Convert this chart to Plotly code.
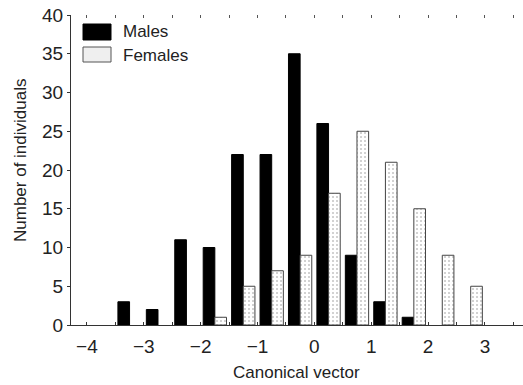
import plotly.graph_objects as go

# Bin centres (canonical vector) and counts
bin_centres = [-3.25, -2.75, -2.25, -1.75, -1.25, -0.75, -0.25, 0.25, 0.75, 1.25, 1.75, 2.25, 2.75]
males = [3, 2, 11, 10, 22, 22, 35, 26, 9, 3, 1, 0, 0]
females = [0, 0, 0, 1, 5, 7, 9, 17, 25, 21, 15, 9, 5]
x_ticks = [-4, -3, -2, -1, 0, 1, 2, 3]
y_ticks = [0, 5, 10, 15, 20, 25, 30, 35, 40]

FONT = "Liberation Sans, Arial, Helvetica, sans-serif"
TXT = "#222222"
XR = [-4.28, 3.67]

fig = go.Figure()
fig.add_trace(go.Bar(
    x=bin_centres, y=males, name="Males",
    marker=dict(color="black",
                line=dict(color="black", width=[1 if v > 0 else 0 for v in males])),
    showlegend=False,
))
fig.add_trace(go.Bar(
    x=bin_centres, y=females, name="Females",
    marker=dict(color="white",
                line=dict(color="#444444", width=[1 if v > 0 else 0 for v in females]),
                pattern=dict(shape=".", fgcolor="#888888", bgcolor="white",
                             size=4, solidity=0.2)),
    showlegend=False,
))
# invisible trace to host top tick axis
fig.add_trace(go.Scatter(x=[0], y=[0], xaxis="x2", mode="markers",
                         marker=dict(opacity=0), showlegend=False, hoverinfo="skip"))

fig.update_layout(
    width=523, height=385,
    margin=dict(l=71, r=0, t=15, b=60),
    paper_bgcolor="white", plot_bgcolor="white",
    font=dict(family=FONT, size=18, color=TXT),
    barmode="group", bargap=0.18, bargroupgap=0,
    xaxis=dict(
        range=XR, tickmode="array", tickvals=x_ticks,
        ticktext=["\u2212" + str(-v) if v < 0 else str(v) for v in x_ticks],
        ticks="inside", ticklen=3, tickcolor="#333", tickwidth=1,
        minor=dict(tickmode="linear", tick0=0, dtick=0.5, ticks="inside",
                   ticklen=3, tickcolor="#333", tickwidth=1),
        showline=True, linecolor="#333", linewidth=1,
        showgrid=False, zeroline=False,
        ticklabelstandoff=4,
        tickfont=dict(size=19),
    ),
    xaxis2=dict(
        range=XR, overlaying="x", side="top", anchor="y",
        tickmode="linear", tick0=0, dtick=0.5,
        ticks="inside", ticklen=3, tickcolor="#555", tickwidth=1,
        showticklabels=False, showline=False, showgrid=False, zeroline=False,
    ),
    yaxis=dict(
        range=[0, 40], tickmode="array", tickvals=y_ticks,
        ticks="outside", ticklen=3, tickcolor="#333", tickwidth=1,
        showline=True, linecolor="#333", linewidth=1,
        showgrid=False, zeroline=False,
        tickfont=dict(size=19),
    ),
)

# paper coords: x 0->71px, 1->523px; y 0->325px, 1->15px
def px(xp):
    return (xp - 71) / 452.0

def py(yp):
    return (325 - yp) / 310.0

# axis titles
fig.add_annotation(text="Canonical vector", xref="paper", yref="paper",
                   x=px(296), y=py(372), xanchor="center", yanchor="middle",
                   showarrow=False, font=dict(size=17, family=FONT, color=TXT))
fig.add_annotation(text="Number of individuals", xref="paper", yref="paper",
                   x=px(20), y=py(161), xanchor="center", yanchor="middle",
                   textangle=-90, showarrow=False,
                   font=dict(size=17, family=FONT, color=TXT))

# manual legend
fig.add_shape(type="rect", xref="paper", yref="paper",
              x0=px(83), x1=px(111), y0=py(40), y1=py(24),
              fillcolor="black", line=dict(color="black", width=1))
fig.add_shape(type="rect", xref="paper", yref="paper",
              x0=px(83), x1=px(111), y0=py(62), y1=py(47),
              fillcolor="#efefef", line=dict(color="#555555", width=1))
fig.add_annotation(text="Males", xref="paper", yref="paper", x=px(121), y=py(32),
                   xanchor="left", yanchor="middle", showarrow=False,
                   font=dict(size=17, family=FONT, color=TXT))
fig.add_annotation(text="Females", xref="paper", yref="paper", x=px(121), y=py(55),
                   xanchor="left", yanchor="middle", showarrow=False,
                   font=dict(size=17, family=FONT, color=TXT))

fig.write_html("out.html")
